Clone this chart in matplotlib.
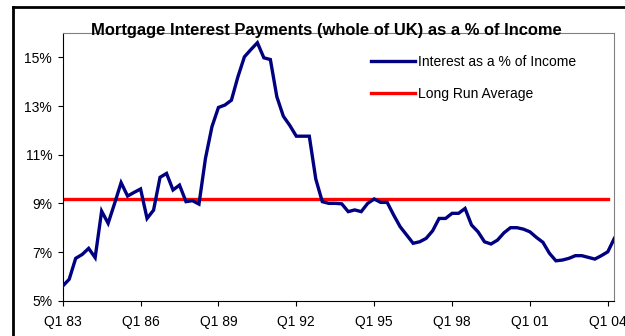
import matplotlib
matplotlib.use("Agg")
import matplotlib.pyplot as plt
from matplotlib.lines import Line2D

plt.rcParams["font.family"] = ["Liberation Sans", "DejaVu Sans"]

# quarterly, Q1 1983 .. Q2 2004
interest_pct = [
    5.60, 5.88, 6.74, 6.90, 7.15, 6.77, 8.68, 8.18, 9.00, 9.85,
    9.30, 9.45, 9.59, 8.38, 8.72, 10.07, 10.23, 9.55, 9.75, 9.07,
    9.11, 8.97, 10.85, 12.15, 12.94, 13.04, 13.24, 14.20, 15.02, 15.32,
    15.60, 14.98, 14.91, 13.38, 12.58, 12.20, 11.76, 11.76, 11.76, 10.00,
    9.07, 9.00, 9.00, 8.98, 8.66, 8.73, 8.66, 9.00, 9.18, 9.04,
    9.04, 8.52, 8.04, 7.70, 7.36, 7.42, 7.56, 7.87, 8.38, 8.38,
    8.59, 8.59, 8.79, 8.11, 7.83, 7.42, 7.33, 7.49, 7.79, 8.00,
    8.00, 7.94, 7.83, 7.60, 7.40, 6.95, 6.64, 6.67, 6.74, 6.85,
    6.85, 6.78, 6.71, 6.85, 7.01, 7.56,
]
long_run_avg = 9.16
avg_quarters = 85  # average line runs to Q1 04

tick_labels = ["Q1 83", "Q1 86", "Q1 89", "Q1 92", "Q1 95", "Q1 98", "Q1 01", "Q1 04"]
y_ticks = [5, 7, 9, 11, 13, 15]

fig = plt.figure(figsize=(6.25, 3.36), dpi=100)
ax = fig.add_axes([62.7 / 625, 1 - 300.7 / 336, (614.3 - 62.7) / 625, (300.7 - 33) / 336])

x = list(range(len(interest_pct)))
ax.plot(x, interest_pct, color="#000080", lw=2.4, label="Interest as a % of Income",
        solid_joinstyle="miter", zorder=3)
ax.plot(range(avg_quarters), [long_run_avg] * avg_quarters, color="#FF0000", lw=2.4,
        label="Long Run Average", zorder=2)

ax.set_xlim(0, 85)
ax.set_ylim(5, 16)
ax.set_xticks([12 * i for i in range(len(tick_labels))])
ax.set_xticklabels(tick_labels)
ax.set_yticks(y_ticks)
ax.set_yticklabels([f"{v}%" for v in y_ticks])
ax.tick_params(direction="out", length=3.6, width=0.8, labelsize=10, color="black")
ax.tick_params(axis="x", pad=6.5)
ax.tick_params(axis="y", pad=4)

for side in ["left", "bottom"]:
    ax.spines[side].set_color("black")
    ax.spines[side].set_linewidth(0.8)
for side in ["top", "right"]:
    ax.spines[side].set_color("#808080")
    ax.spines[side].set_linewidth(0.8)

leg = ax.legend(loc="upper left", bbox_to_anchor=(370.7 / 625, 1 - 54.5 / 336),
                bbox_transform=fig.transFigure, frameon=False, fontsize=10,
                handlelength=3.2, handletextpad=0.2, labelspacing=1.32,
                borderpad=0, borderaxespad=0)

# title sits on the top edge of the plot area, as in the original
fig.text(326 / 625, 1 - 35 / 336, "Mortgage Interest Payments (whole of UK) as a % of Income",
         ha="center", va="baseline", fontsize=11.9, fontweight="bold", zorder=5)

# outer chart border (only top and left fall inside the image)
fig.add_artist(Line2D([13 / 625, 13 / 625], [0, 1 - 7 / 336], transform=fig.transFigure,
                      color="black", lw=2, solid_capstyle="projecting"))
fig.add_artist(Line2D([13 / 625, 1], [1 - 7 / 336, 1 - 7 / 336], transform=fig.transFigure,
                      color="black", lw=2, solid_capstyle="projecting"))

fig.savefig("out.png", dpi=100)
